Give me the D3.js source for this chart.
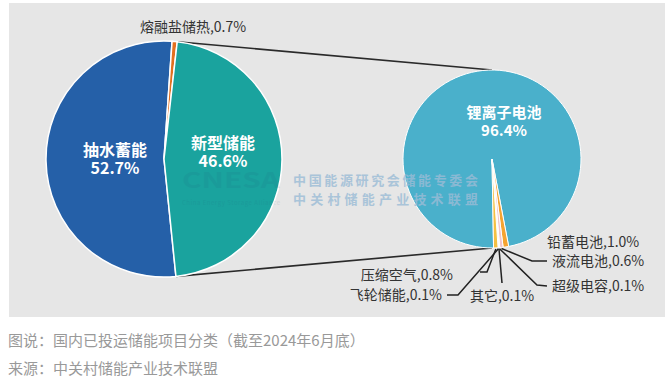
<!DOCTYPE html>
<html>
<head>
<meta charset="utf-8">
<script src="https://cdn.jsdelivr.net/npm/d3@7"></script>
<style>
  body { margin: 0; background: #fff; }
  svg text { font-family: "Noto Sans CJK SC", "Noto Sans", sans-serif; }
</style>
</head>
<body>
<div id="chart"></div>
<script>
// data
const mainCats = ['抽水蓄能', '熔融盐储热', '新型储能'];
const mainVals = [52.7, 0.7, 46.6];
const newCats = ['锂离子电池', '铅蓄电池', '液流电池', '超级电容', '其它', '飞轮储能', '压缩空气'];
const newVals = [96.4, 1.0, 0.6, 0.1, 0.1, 0.1, 0.8];
const captionLines = ['图说：国内已投运储能项目分类（截至2024年6月底）', '来源：中关村储能产业技术联盟'];
const markLines = ['中国能源研究会储能专委会', '中关村储能产业技术联盟'];

const width = 668, height = 384;
const mainColors = ['#2560a8', '#e2701f', '#1aa39e'];
const newColors = ['#4ab0cb', '#f5a431', '#f2c6cb', '#fbe9e0', '#f7dcc0', '#efe6d6', '#f4c042'];

const deg = Math.PI / 180;
const left = { cx: 164, cy: 159, r: 118, start: 174.2 };
const right = { cx: 492, cy: 159, r: 89, start: -181 };

const svg = d3.select('#chart').append('svg')
  .attr('width', width)
  .attr('height', height);

// grey panel
svg.append('rect')
  .attr('x', 9).attr('y', 3)
  .attr('width', 656).attr('height', 314)
  .attr('fill', '#e6e6e6');

function pt(p, a, r) {
  return [p.cx + r * Math.sin(a), p.cy - r * Math.cos(a)];
}

// pies
const pieL = d3.pie().sort(null)
  .startAngle(left.start * deg).endAngle(left.start * deg + 2 * Math.PI);
const arcsL = pieL(mainVals);
const arcL = d3.arc().innerRadius(0).outerRadius(left.r);

const pieR = d3.pie().sort(null)
  .startAngle(right.start * deg).endAngle(right.start * deg + 2 * Math.PI);
const arcsR = pieR(newVals);
const arcR = d3.arc().innerRadius(0).outerRadius(right.r);

// connector lines from the 新型储能 slice to the second pie
const teal = arcsL[2];
const conn = [
  [pt(left, teal.startAngle, left.r), pt(right, 0, right.r)],
  [pt(left, teal.endAngle, left.r), pt(right, Math.PI, right.r)]
];
svg.selectAll('line.conn')
  .data(conn)
  .enter()
  .append('line')
  .attr('x1', d => d[0][0]).attr('y1', d => d[0][1])
  .attr('x2', d => d[1][0]).attr('y2', d => d[1][1])
  .attr('stroke', '#2a2a2a')
  .attr('stroke-width', 1.6);

svg.append('g')
  .attr('transform', `translate(${left.cx},${left.cy})`)
  .selectAll('path')
  .data(arcsL)
  .enter()
  .append('path')
  .attr('d', arcL)
  .attr('fill', (d, i) => mainColors[i])
  .attr('stroke', '#fff')
  .attr('stroke-width', 1.5);

svg.append('g')
  .attr('transform', `translate(${right.cx},${right.cy})`)
  .selectAll('path')
  .data(arcsR)
  .enter()
  .append('path')
  .attr('d', arcR)
  .attr('fill', (d, i) => newColors[i])
  .attr('stroke', '#fff')
  .attr('stroke-width', 1);

// watermark
const wm = svg.append('g');
wm.append('text')
  .attr('x', 182).attr('y', 188)
  .attr('textLength', 98).attr('lengthAdjust', 'spacingAndGlyphs')
  .attr('font-size', 21).attr('font-weight', 'bold')
  .attr('fill', '#1d5a7a').attr('opacity', 0.1)
  .text('CNESA');
wm.append('text')
  .attr('x', 182).attr('y', 205)
  .attr('textLength', 98)
  .attr('font-size', 6)
  .attr('fill', '#1d5a7a').attr('opacity', 0.12)
  .text('China Energy Storage Alliance');
wm.selectAll('text.mk')
  .data(markLines)
  .enter()
  .append('text')
  .attr('x', 293).attr('y', (d, i) => 185 + i * 19)
  .attr('textLength', 185).attr('lengthAdjust', 'spacing')
  .attr('font-size', 13).attr('font-weight', 'bold')
  .attr('fill', '#9bbcd6').attr('opacity', 0.8)
  .text(d => d);

// labels inside slices (offsets from pie centre)
const innerLabels = [
  { p: left, dx: -49, dy: -3, name: mainCats[0], val: mainVals[0], size: 16 },
  { p: left, dx: 59, dy: -10, name: mainCats[2], val: mainVals[2], size: 16 },
  { p: right, dx: 12, dy: -41, name: newCats[0], val: newVals[0], size: 15 }
];
innerLabels.forEach(l => {
  const t = svg.append('text')
    .attr('text-anchor', 'middle')
    .attr('font-size', l.size)
    .attr('font-weight', 'bold')
    .attr('fill', '#fff');
  t.append('tspan').attr('x', l.p.cx + l.dx).attr('y', l.p.cy + l.dy).text(l.name);
  t.append('tspan').attr('x', l.p.cx + l.dx).attr('y', l.p.cy + l.dy + 18).text(l.val.toFixed(1) + '%');
});

// outer label for 熔融盐储热
svg.append('text')
  .attr('x', 193).attr('y', 32)
  .attr('text-anchor', 'middle')
  .attr('font-size', 14)
  .attr('fill', '#333')
  .text(mainCats[1] + ',' + mainVals[1].toFixed(1) + '%');

// leader labels for the small slices: elbow / end points and text anchor (page coords)
const leader = [
  null,
  { pts: [], tx: 547, ty: 247, anchor: 'start' },
  { pts: [[532, 261], [547, 261]], tx: 552, ty: 266, anchor: 'start' },
  { pts: [[537, 285], [547, 286]], tx: 552, ty: 291, anchor: 'start' },
  { pts: [[502, 283]], tx: 502, ty: 301, anchor: 'middle' },
  { pts: [[458, 295], [447, 295]], tx: 442, ty: 300, anchor: 'end' },
  { pts: [[487, 272], [480, 272]], tx: 453, ty: 280, anchor: 'end' }
];

const line = d3.line();
arcsR.forEach((a, i) => {
  const L = leader[i];
  if (!L) return;
  if (L.pts.length) {
    const mid = (a.startAngle + a.endAngle) / 2;
    const start = pt(right, mid, right.r + 1);
    svg.append('path')
      .attr('d', line([start].concat(L.pts)))
      .attr('fill', 'none')
      .attr('stroke', '#222')
      .attr('stroke-width', 1.5);
  }
  svg.append('text')
    .attr('x', L.tx).attr('y', L.ty)
    .attr('text-anchor', L.anchor)
    .attr('font-size', 14)
    .attr('fill', '#333')
    .text(newCats[i] + ',' + newVals[i].toFixed(1) + '%');
});

// caption
svg.selectAll('text.cap')
  .data(captionLines)
  .enter()
  .append('text')
  .attr('x', 8)
  .attr('y', (d, i) => 346 + i * 28)
  .attr('font-size', 15)
  .attr('fill', '#999')
  .text(d => d);
</script>
</body>
</html>
